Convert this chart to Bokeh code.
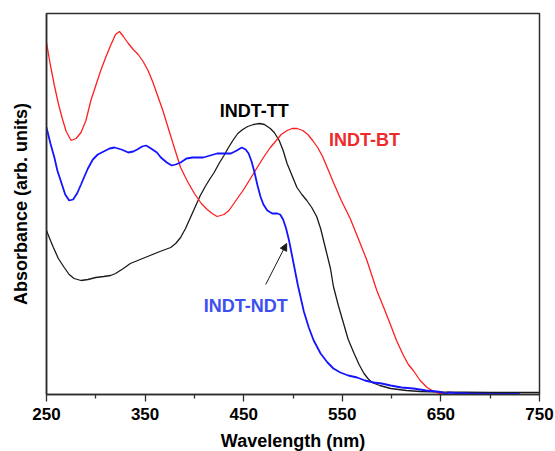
from bokeh.plotting import figure
from bokeh.models import Range1d, FixedTicker, Label, Arrow, NormalHead
from bokeh.embed import file_html
from bokeh.resources import INLINE

# ---- data (wavelength in nm, absorbance in arbitrary units) ----
bt_nm = [250, 254, 258, 262, 266, 270, 275, 280, 285, 290, 295, 300, 305, 310, 315, 320, 324, 328,
         333, 338, 343, 348, 353, 358, 363, 368, 373, 378, 386, 393, 400, 407, 413, 418, 423, 430,
         435, 440, 445, 450, 455, 460, 465, 470, 477, 483, 488, 494, 499, 504, 510, 515, 520, 525,
         530, 536, 541, 549, 558, 567, 575, 585, 592, 598, 605, 612, 617, 622, 629, 636, 643, 648,
         655, 662]
bt_abs = [352, 329, 309, 291, 276, 263, 254, 256, 262, 274, 294, 309, 324, 337, 349, 360, 363, 358,
          351, 345, 340, 333, 324, 312, 298, 284, 268, 252, 227, 213, 201, 191, 185, 181, 178, 180,
          184, 191, 198, 205, 213, 221, 229, 237, 247, 254, 260, 264, 266, 266, 264, 260, 254, 247,
          238, 224, 212, 194, 176, 154, 134, 104, 87, 72, 54, 39, 30, 24, 14, 7, 3, 1,
          0, 0]

tt_nm = [250, 254, 257, 262, 268, 273, 278, 285, 292, 300, 308, 315, 320, 328, 335, 345, 355, 365,
         376, 381, 386, 391, 396, 401, 406, 411, 416, 420, 425, 430, 434, 439, 444, 449, 454, 460,
         466, 471, 477, 481, 486, 490, 494, 499, 504, 509, 514, 519, 524, 528, 533, 538, 541, 546,
         551, 556, 562, 567, 572, 576, 580, 588, 599, 615, 629, 650, 700, 750]
tt_abs = [164, 154, 147, 136, 127, 120, 116, 114, 115, 117, 118, 119, 121, 126, 131, 135, 139, 143,
          147, 151, 157, 166, 177, 188, 199, 208, 216, 222, 231, 239, 246, 254, 261, 265, 268, 270,
          271, 270, 266, 262, 254, 244, 231, 219, 207, 200, 194, 187, 178, 166, 146, 126, 108, 89,
          72, 55, 41, 30, 21, 16, 12, 9, 6, 4, 3, 2.5, 2, 2]

ndt_nm = [250, 254, 258, 261, 265, 269, 273, 277, 281, 285, 288, 292, 297, 302, 308, 314, 319, 326,
          333, 338, 342, 347, 351, 356, 362, 366, 372, 377, 381, 386, 392, 398, 403, 409, 416, 423,
          430, 437, 443, 448, 452, 455, 458, 461, 464, 467, 470, 474, 479, 484, 487, 490, 493, 496,
          499, 502, 505, 508, 511, 516, 521, 528, 535, 541, 548, 556, 565, 573, 582, 590, 599, 610,
          622, 635, 646, 652, 655, 657, 665, 680, 700, 730]
ndt_abs = [267, 251, 237, 224, 212, 200, 194, 195, 201, 210, 217, 226, 235, 240, 243, 246, 247, 245,
           242, 243, 245, 248, 249, 246, 242, 237, 232, 229, 230, 232, 236, 237, 237, 237, 239, 241,
           241, 241, 244, 247, 245, 241, 233, 222, 209, 198, 190, 184, 181, 181, 180, 175, 166, 154,
           139, 124, 109, 96, 83, 67, 54, 41, 32, 26, 22, 19, 17, 14, 12, 11, 9, 7,
           6, 4, 3, 2, 0, 2, 1.5, 1, 0.5, 0.5]

x_ticks = [250, 350, 450, 550, 650, 750]
x_minor = [300, 400, 500, 600, 700]

series_names = ["INDT-TT", "INDT-BT", "INDT-NDT"]
label_x = [460.6, 572.5, 452.0]
label_y = [284, 255, 89]
arrow_x = [472.3, 493.6]
arrow_y = [110, 151]

FONT = "Liberation Sans"
AXIS_COL = "#2e2e2e"

p = figure(frame_width=493, frame_height=381, output_backend="svg", toolbar_location=None,
           x_range=Range1d(250, 750), y_range=Range1d(0, 381),
           min_border_left=46, min_border_right=16, min_border_top=13, min_border_bottom=57)

p.xgrid.visible = False
p.ygrid.visible = False
p.outline_line_color = AXIS_COL
p.outline_line_width = 1.5
p.background_fill_color = "white"
p.border_fill_color = "white"

# lines
p.line(tt_nm, tt_abs, line_color="#1a1a1a", line_width=1.3)
p.line(bt_nm, bt_abs, line_color="#ff1f1f", line_width=1.3)
p.line(ndt_nm, ndt_abs, line_color="#1414ff", line_width=1.8)

# x axis
xa = p.xaxis[0]
xa.ticker = FixedTicker(ticks=x_ticks, minor_ticks=x_minor)
xa.axis_label = "Wavelength (nm)"
xa.axis_label_text_font = FONT
xa.axis_label_text_font_style = "bold"
xa.axis_label_text_font_size = "18px"
xa.axis_label_text_color = "black"
xa.axis_label_standoff = 8
xa.major_label_text_font = FONT
xa.major_label_text_font_style = "bold"
xa.major_label_text_font_size = "17px"
xa.major_label_text_color = "black"
xa.major_label_standoff = 6
xa.major_tick_out = 7
xa.major_tick_in = 0
xa.minor_tick_out = 4
xa.minor_tick_in = 0
xa.axis_line_color = AXIS_COL
xa.axis_line_width = 1.5
xa.major_tick_line_color = AXIS_COL
xa.minor_tick_line_color = AXIS_COL
xa.major_tick_line_width = 1.3
xa.minor_tick_line_width = 1.3

# y axis
ya = p.yaxis[0]
ya.ticker = FixedTicker(ticks=[])
ya.axis_label = "Absorbance (arb. units)"
ya.axis_label_text_font = FONT
ya.axis_label_text_font_style = "bold"
ya.axis_label_text_font_size = "18px"
ya.axis_label_text_color = "black"
ya.axis_label_standoff = 16
ya.major_label_text_font_size = "0px"
ya.major_tick_out = 0
ya.major_tick_in = 0
ya.minor_tick_out = 0
ya.minor_tick_in = 0
ya.axis_line_color = AXIS_COL
ya.axis_line_width = 1.5

# series labels
label_colors = ["black", "#ee2a2a", "#3d4ff0"]
for name, lx, ly, col in zip(series_names, label_x, label_y, label_colors):
    p.add_layout(Label(x=lx, y=ly, text=name, text_font=FONT, text_font_style="bold",
                       text_font_size="18px", text_color=col,
                       text_align="center", text_baseline="middle"))

p.add_layout(Arrow(end=NormalHead(size=7, fill_color="#1a1a1a", line_color="#1a1a1a", line_width=1),
                   x_start=arrow_x[0], y_start=arrow_y[0], x_end=arrow_x[1], y_end=arrow_y[1],
                   line_color="#1a1a1a", line_width=1))

open("out.html", "w").write(file_html(p, INLINE))
